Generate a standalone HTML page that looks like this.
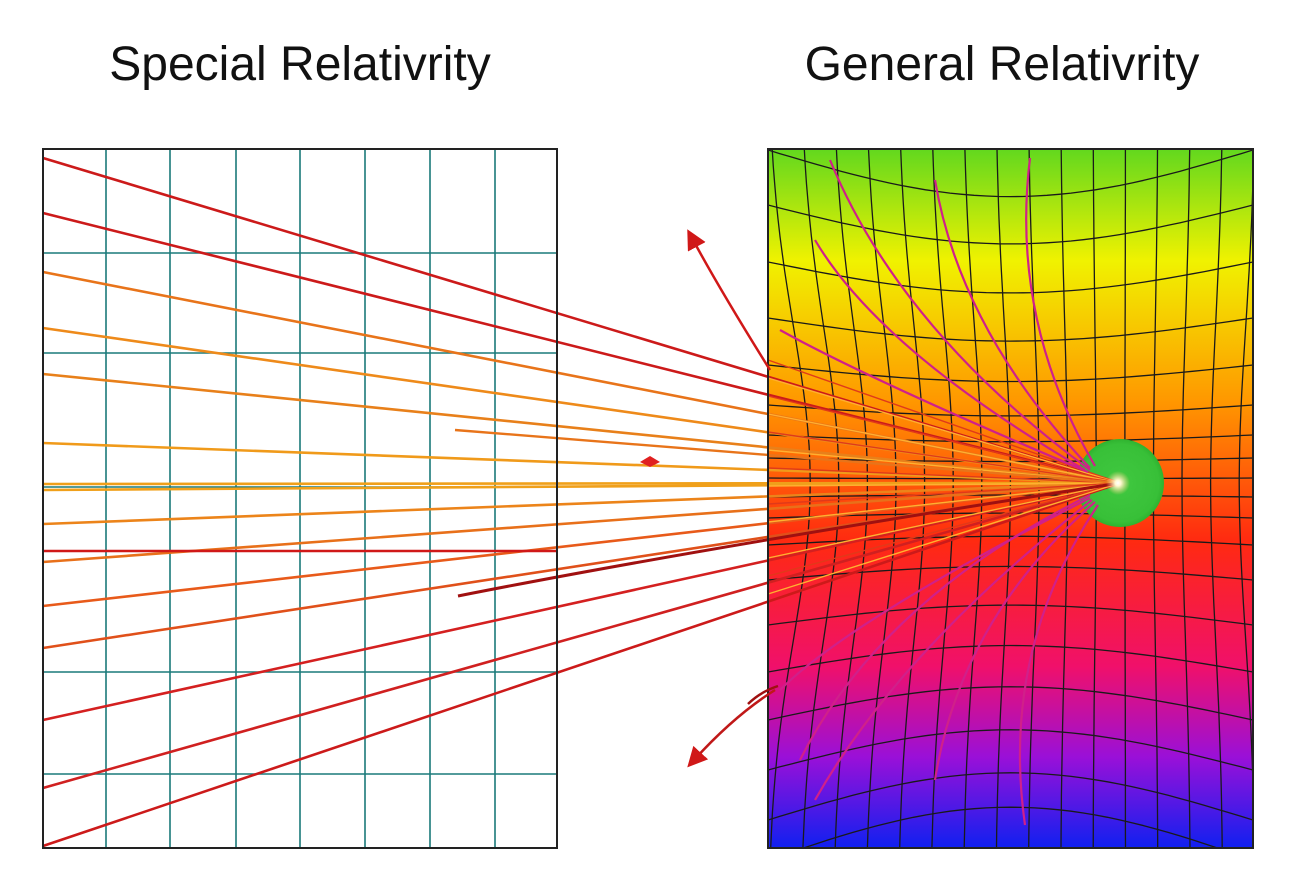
<!DOCTYPE html>
<html><head><meta charset="utf-8"><style>
html,body{margin:0;padding:0;background:#fff;}
svg{display:block}
text{font-family:"Liberation Sans",sans-serif;}
</style></head><body>
<svg id="s" width="1300" height="895" viewBox="0 0 1300 895" xmlns="http://www.w3.org/2000/svg">
<defs>
<linearGradient id="rg" x1="0" y1="0" x2="0" y2="1">
<stop offset="0" stop-color="#62d81e"/>
<stop offset="0.16" stop-color="#f0f200"/>
<stop offset="0.36" stop-color="#ff9800"/>
<stop offset="0.56" stop-color="#ff2a10"/>
<stop offset="0.74" stop-color="#f0106a"/>
<stop offset="0.87" stop-color="#9a10d8"/>
<stop offset="1" stop-color="#1020f0"/>
</linearGradient>
<radialGradient id="ball" cx="0.5" cy="0.5" r="0.55">
<stop offset="0" stop-color="#40c840"/>
<stop offset="0.8" stop-color="#38c038"/>
<stop offset="1" stop-color="#28a828"/>
</radialGradient>
<radialGradient id="glow" cx="0.5" cy="0.5" r="0.5">
<stop offset="0" stop-color="#fff"/>
<stop offset="0.25" stop-color="#fff8d0"/>
<stop offset="1" stop-color="#ffd080" stop-opacity="0"/>
</radialGradient>
<clipPath id="cp"><rect x="768" y="149" width="485" height="699"/></clipPath>
<marker id="ah" markerWidth="8" markerHeight="8" refX="4" refY="4" orient="auto"><path d="M0,0 L8,4 L0,8 Z" fill="#d01818"/></marker>
</defs>
<text x="300" y="80" font-size="48" text-anchor="middle" fill="#111">Special Relativrity</text>
<text x="1002" y="80" font-size="48" text-anchor="middle" fill="#111">General Relativrity</text>
<rect x="43" y="149" width="514" height="699" fill="#fff"/>
<g id="lg" stroke="#1a7a7a" stroke-width="1.6"></g>
<rect x="768" y="149" width="485" height="699" fill="url(#rg)"/>
<g id="rgd" clip-path="url(#cp)" stroke="#1a1a1a" stroke-width="1.3" fill="none"></g>
<circle cx="1120" cy="483" r="44" fill="url(#ball)"/>
<g id="rays" fill="none"></g>
<g id="mag" clip-path="url(#cp)" fill="none" stroke="#d0208a" stroke-width="2.2"></g>
<circle cx="1118" cy="483" r="12" fill="url(#glow)"/>
<rect x="43" y="149" width="514" height="699" fill="none" stroke="#222" stroke-width="2"/>
<rect x="768" y="149" width="485" height="699" fill="none" stroke="#222" stroke-width="2"/>
<path d="M770,370 Q720,290 692,238" stroke="#d01818" stroke-width="2.5" fill="none" marker-end="url(#ah)"/>
<path d="M775,690 Q735,715 694,760" stroke="#c01818" stroke-width="2.5" fill="none" marker-end="url(#ah)"/>
<path d="M748,704 Q760,692 778,686" stroke="#a01010" stroke-width="2.5" fill="none"/>
<path d="M640,462 L650,456 L660,462 L650,467 Z" fill="#e02020"/>
</svg>
<script>
var NS="http://www.w3.org/2000/svg";
function el(p,t,a){var e=document.createElementNS(NS,t);for(var k in a)e.setAttribute(k,a[k]);p.appendChild(e);return e;}
var lg=document.getElementById('lg');
[106,170,236,300,365,430,495].forEach(function(x){el(lg,'line',{x1:x,y1:149,x2:x,y2:848});});
[253,353,487,672,774].forEach(function(y){el(lg,'line',{x1:43,y1:y,x2:557,y2:y});});
var g=document.getElementById('rgd');
var ys=[150,205,262,318,365,405,435,458,478,497,518,545,580,625,672,720,770,820,860];
ys.forEach(function(y0){
  var d="",k=(483-y0)*0.14;
  for(var i=0;i<=40;i++){var u=i/40;var x=768+485*u;var y=y0+k*Math.sin(Math.PI*u);d+=(i?"L":"M")+x.toFixed(1)+","+y.toFixed(1);}
  el(g,'path',{d:d});
});
for(var j=0;j<16;j++){
  var x0=768+j*32.5;var d="";
  for(var i=0;i<=40;i++){var v=i/40;var y=149+699*v;var f=Math.exp(-Math.pow((y-483)/220,2));var x=x0+(1120-x0)*0.12*f;d+=(i?"L":"M")+x.toFixed(1)+","+y.toFixed(1);}
  el(g,'path',{d:d});
}
var rays=document.getElementById('rays');
var starts=[[158,"#cc1a1a"],[213,"#cc1a1a"],[272,"#e8741a"],[328,"#ee8a1a"],[374,"#e8801a"],[443,"#f09a1a"],[484,"#f0a01a"],[490,"#f0a01a"],[524,"#ec841a"],[562,"#e8701a"],[606,"#e85a1a"],[648,"#e0501a"],[720,"#d42020"],[788,"#d02020"],[846,"#cc1a1a"]];
starts.forEach(function(s){el(rays,'line',{x1:43,y1:s[0],x2:1120,y2:483,stroke:s[1],'stroke-width':2.6});});
for(var i=0;i<14;i++){var y=360+i*18;el(rays,'line',{x1:768,y1:y,x2:1120,y2:483,stroke:i%2?"#ffb030":"#e03a1a",'stroke-width':1.4});}
el(rays,'line',{x1:43,y1:551,x2:557,y2:551,stroke:"#d01818",'stroke-width':2.6});
el(rays,'line',{x1:455,y1:430,x2:1120,y2:483,stroke:"#e8741a",'stroke-width':2.4});
el(rays,'path',{d:"M458,596 Q700,548 1120,483",stroke:"#a01010",'stroke-width':3});
var m=document.getElementById('mag');
["M1090,470 Q900,330 830,160","M1085,470 Q880,350 815,240","M1090,468 Q960,330 935,180","M1095,466 Q1010,320 1030,158","M1088,472 Q870,380 780,330",
 "M1090,495 Q880,600 800,760","M1092,500 Q900,650 815,800","M1095,502 Q960,620 935,780","M1098,505 Q1000,650 1025,825","M1090,498 Q850,620 780,690"].forEach(function(d){el(m,'path',{d:d});});
</script>
</body></html>
